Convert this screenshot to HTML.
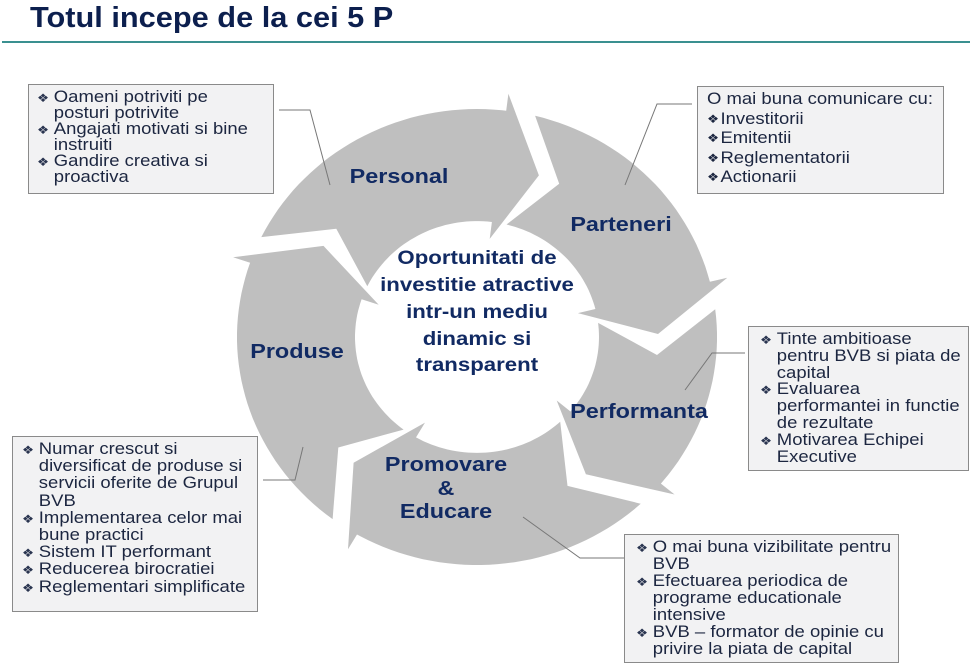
<!DOCTYPE html>
<html><head><meta charset="utf-8">
<style>
html,body{margin:0;padding:0;background:#fff;}
body{width:970px;height:667px;position:relative;overflow:hidden;font-family:"Liberation Sans",Arial,sans-serif;}
h1{position:absolute;left:30px;top:2px;margin:0;font-size:29px;font-weight:bold;color:#0c1f4e;transform:scaleX(1.06);transform-origin:0 0;}
.rule{position:absolute;left:2px;top:41px;width:968px;height:2px;background:#3a9090;}
.box{position:absolute;background:#f2f2f3;border:1.5px solid #8a8a8a;box-sizing:border-box;color:#1c2640;font-size:16.5px;}
.c{transform:scaleX(1.12);transform-origin:0 0;}
.box .c div{white-space:nowrap;}
.b{padding-left:15px;position:relative;}
.b:before{content:"\2756";position:absolute;left:0;font-size:12px;top:1px;color:#2a3550;}
.i{padding-left:15px;}
svg{position:absolute;left:0;top:0;}
.lab{font-weight:bold;fill:#112a63;font-size:20px;font-family:"Liberation Sans",Arial,sans-serif;}
.ctr{font-weight:bold;fill:#112a63;font-size:19px;font-family:"Liberation Sans",Arial,sans-serif;}
</style></head><body>
<h1>Totul incepe de la cei 5 P</h1>
<div class="rule"></div>
<svg width="970" height="667" id="s">
<g id="ring" fill="#bfbfbf"></g>
<g stroke="#777" stroke-width="1" fill="none">
<polyline points="279,110 310,110 330,185"/>
<polyline points="692,104 657,104 625,185"/>
<polyline points="745,353 712,353 685,390"/>
<polyline points="263,480 295,480 303,447"/>
<polyline points="523,517 580,558 624,558"/>
</g>
<g transform="translate(399,183) scale(1.17,1)"><text class="lab" text-anchor="middle">Personal</text></g>
<g transform="translate(621,231) scale(1.17,1)"><text class="lab" text-anchor="middle">Parteneri</text></g>
<g transform="translate(297,358) scale(1.17,1)"><text class="lab" text-anchor="middle">Produse</text></g>
<g transform="translate(639,418) scale(1.17,1)"><text class="lab" text-anchor="middle">Performanta</text></g>
<g transform="translate(446,471) scale(1.17,1)"><text class="lab" text-anchor="middle">Promovare</text></g>
<g transform="translate(446,495) scale(1.17,1)"><text class="lab" text-anchor="middle">&amp;</text></g>
<g transform="translate(446,518) scale(1.17,1)"><text class="lab" text-anchor="middle">Educare</text></g>
<g transform="translate(477,264) scale(1.17,1)"><text class="ctr" text-anchor="middle">Oportunitati de</text></g>
<g transform="translate(477,291) scale(1.17,1)"><text class="ctr" text-anchor="middle">investitie atractive</text></g>
<g transform="translate(477,318) scale(1.17,1)"><text class="ctr" text-anchor="middle">intr-un mediu</text></g>
<g transform="translate(477,345) scale(1.17,1)"><text class="ctr" text-anchor="middle">dinamic si</text></g>
<g transform="translate(477,371) scale(1.17,1)"><text class="ctr" text-anchor="middle">transparent</text></g>
</svg>
<script>
(function(){
var cx=477,cy=337,R=240,r=122,sy=0.95,d=13,g=7,fl=18;
var tips=[20,89,143,223,302];
function P(rad,a){var t=a*Math.PI/180;return (cx+rad*Math.sin(t)).toFixed(1)+","+(cy-rad*Math.cos(t)*sy).toFixed(1);}
var html="";
for(var i=0;i<5;i++){
 var T=tips[i],Tp=tips[(i+4)%5];
 var s=Tp-d+g; if(s>T) s-=360;
 var h=T-d, Rm=(R+r)/2;
 var pts=[];
 for(var a=s;a<=h;a+=2)pts.push(P(R,a));
 pts.push(P(R,h));pts.push(P(R+fl,h));pts.push(P(Rm,T));pts.push(P(r-fl,h));pts.push(P(r,h));
 for(var a=h;a>=s;a-=2)pts.push(P(r,a));
 pts.push(P(r,s));pts.push(P(Rm,s+d));
 html+='<polygon points="'+pts.join(" ")+'"/>';
}
document.getElementById("ring").innerHTML=html;
})();
</script>
<div class="box" style="left:28px;top:84px;width:246px;height:110px;padding-top:4px;padding-left:8px;line-height:16px;"><div class="c">
<div class="b">Oameni potriviti pe</div><div class="i">posturi potrivite</div>
<div class="b">Angajati motivati si bine</div><div class="i">instruiti</div>
<div class="b">Gandire creativa si</div><div class="i">proactiva</div>
</div></div>
<div class="box" style="left:697px;top:86px;width:247px;height:108px;padding-top:3px;padding-left:9px;line-height:19.5px;"><div class="c">
<div>O mai buna comunicare cu:</div>
<div style="position:relative;padding-left:12px"><span style="position:absolute;left:0;font-size:12px">&#10070;</span>Investitorii</div>
<div style="position:relative;padding-left:12px"><span style="position:absolute;left:0;font-size:12px">&#10070;</span>Emitentii</div>
<div style="position:relative;padding-left:12px"><span style="position:absolute;left:0;font-size:12px">&#10070;</span>Reglementatorii</div>
<div style="position:relative;padding-left:12px"><span style="position:absolute;left:0;font-size:12px">&#10070;</span>Actionarii</div>
</div></div>
<div class="box" style="left:748px;top:326px;width:221px;height:145px;padding-top:4px;padding-left:11px;line-height:16.8px;"><div class="c">
<div class="b">Tinte ambitioase</div><div class="i">pentru BVB si piata de</div><div class="i">capital</div>
<div class="b">Evaluarea</div><div class="i">performantei in functie</div><div class="i">de rezultate</div>
<div class="b">Motivarea Echipei</div><div class="i">Executive</div>
</div></div>
<div class="box" style="left:12px;top:436px;width:246px;height:176px;padding-top:4px;padding-left:9px;line-height:17.2px;"><div class="c">
<div class="b">Numar crescut si</div><div class="i">diversificat de produse si</div><div class="i">servicii oferite de Grupul</div><div class="i">BVB</div>
<div class="b">Implementarea celor mai</div><div class="i">bune practici</div>
<div class="b">Sistem IT performant</div>
<div class="b">Reducerea birocratiei</div>
<div class="b">Reglementari simplificate</div>
</div></div>
<div class="box" style="left:624px;top:534px;width:275px;height:129px;padding-top:4px;padding-left:11px;line-height:17px;"><div class="c">
<div class="b">O mai buna vizibilitate pentru</div><div class="i">BVB</div>
<div class="b">Efectuarea periodica de</div><div class="i">programe educationale</div><div class="i">intensive</div>
<div class="b">BVB – formator de opinie cu</div><div class="i">privire la piata de capital</div>
</div></div>
</body></html>
